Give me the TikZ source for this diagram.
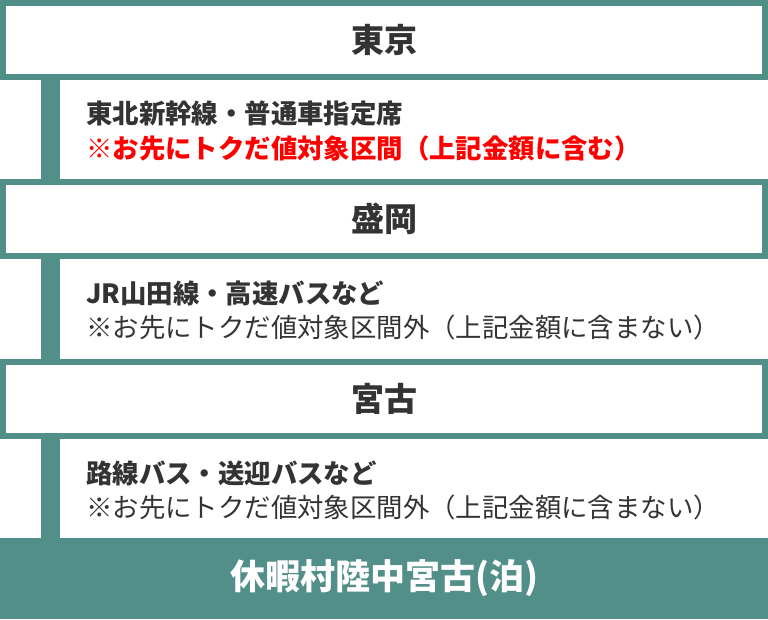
\documentclass[tikz,border=0pt]{standalone}
\usepackage{fontspec}
\setmainfont{Noto Sans CJK JP}
\usetikzlibrary{positioning}
\definecolor{railteal}{RGB}{82,143,136}
\definecolor{textgray}{RGB}{51,51,51}
\definecolor{notered}{RGB}{255,0,0}
\tikzset{
    station/.style={draw=railteal, line width=6pt, fill=white, minimum width=762pt, minimum height=74pt, inner sep=0pt, text=textgray, font=\fontsize{33}{38}\selectfont\bfseries},
    goal/.style={fill=railteal, minimum width=768pt, minimum height=81pt, inner sep=0pt, text=white, font=\fontsize{35}{40}\selectfont\bfseries},
    route/.style={anchor=west, inner sep=0pt, text=textgray, font=\fontsize{26.4}{30}\selectfont\bfseries},
    note/.style={route, font=\fontsize{26.4}{30}\selectfont},
    rednote/.style={route, text=notered},
    rail/.style={railteal, line width=19pt}
}

\begin{document}
\begin{tikzpicture}[x=1pt, y=-1pt]
    \useasboundingbox (0,0) rectangle (768,619);

    \path
        (384,40) node[station] (tokyo) {東京}
        (384,219) node[station] (morioka) {盛岡}
        (384,399) node[station] (miyako) {宮古}
        (384,578.5) node[goal] (kyukamura) {休暇村陸中宮古(泊)};

    \coordinate (railx) at (50.5,0);
    \draw[rail] (tokyo.south -| railx) -- (morioka.north -| railx);
    \draw[rail] (morioka.south -| railx) -- (miyako.north -| railx);
    \draw[rail] (miyako.south -| railx) -- (kyukamura.north -| railx);

    \path
        (86,114) node[route] (shinkansen) {東北新幹線・普通車指定席}
        ++(0,34) node[rednote] (tokuda-in) {※お先にトクだ値対象区間（上記金額に含む）};

    \path
        (86,293) node[route] (yamada) {JR山田線・高速バスなど}
        ++(0,34) node[note] (tokuda-out-1) {※お先にトクだ値対象区間外（上記金額に含まない）};

    \path
        (86,473) node[route] (rosen) {路線バス・送迎バスなど}
        ++(0,34) node[note] (tokuda-out-2) {※お先にトクだ値対象区間外（上記金額に含まない）};
\end{tikzpicture}
\end{document}
